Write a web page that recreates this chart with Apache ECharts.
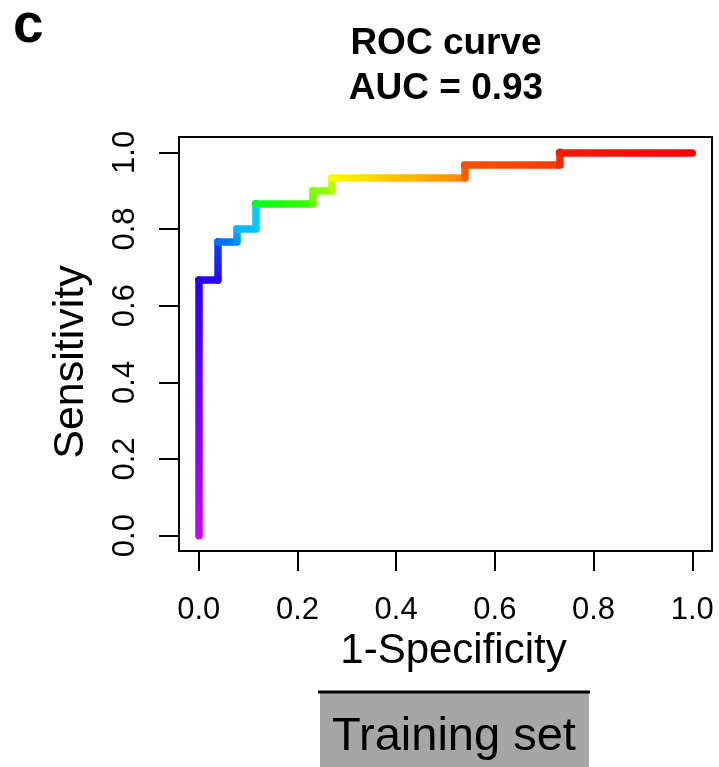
<!DOCTYPE html>
<html>
<head>
<meta charset="utf-8">
<script src="https://cdn.jsdelivr.net/npm/echarts@6/dist/echarts.min.js"></script>
<style>
  html, body { margin: 0; padding: 0; background: #fff; }
  #main { width: 719px; height: 767px; }
</style>
</head>
<body>
<div id="main"></div>
<script>
// ROC curve corner points (1-specificity, sensitivity)
var fpr = [0, 0, 0.0385, 0.0385, 0.0769, 0.0769, 0.1154, 0.1154, 0.2308, 0.2308, 0.2692, 0.2692, 0.5385, 0.5385, 0.7308, 0.7308, 1];
var tpr = [0, 0.6667, 0.6667, 0.7667, 0.7667, 0.8, 0.8, 0.8667, 0.8667, 0.9, 0.9, 0.9333, 0.9333, 0.9667, 0.9667, 1, 1];

// colour at the start / end of each step (cutoff colouring)
var edgeFrom = ['#cc00ff', '#2a00ff', '#2a00ff', '#0070ff', '#0090ff', '#00b8ff', '#00c8ff', '#00ff20',
                '#60ff00', '#80ff00', '#b0ff00', '#ffff00', '#ff6000', '#ff5000', '#ff2800', '#ff1800'];
var edgeTo   = ['#2200ff', '#2a00ff', '#0050ff', '#0080ff', '#00b0ff', '#00c0ff', '#00d0ff', '#40ff00',
                '#80ff00', '#90ff00', '#c8ff00', '#ff8000', '#ff5000', '#ff3a00', '#ff2000', '#ff0000'];

var tickValues = [0, 0.2, 0.4, 0.6, 0.8, 1.0];

var FONT = "'Liberation Sans', Arial, Helvetica, sans-serif";

var edges = [];
for (var i = 0; i < fpr.length - 1; i++) {
  var vertical = fpr[i] === fpr[i + 1];
  var grad = vertical
    ? new echarts.graphic.LinearGradient(0, 1, 0, 0, [{offset: 0, color: edgeFrom[i]}, {offset: 1, color: edgeTo[i]}])
    : new echarts.graphic.LinearGradient(0, 0, 1, 0, [{offset: 0, color: edgeFrom[i]}, {offset: 1, color: edgeTo[i]}]);
  edges.push({
    coords: [[fpr[i], tpr[i]], [fpr[i + 1], tpr[i + 1]]],
    lineStyle: {color: grad}
  });
}

var chart = echarts.init(document.getElementById('main'));

var axisCommon = {
  type: 'value',
  min: -0.04,
  max: 1.04,
  splitLine: {show: false},
  axisLine: {show: true, onZero: false, lineStyle: {color: '#000', width: 2}},
  axisTick: {show: true, inside: false, customValues: tickValues, length: 20, lineStyle: {color: '#000', width: 2}},
  nameLocation: 'middle'
};

var option = {
  animation: false,
  title: [{
    text: 'c',
    left: 8,
    top: -6,
    textStyle: {fontFamily: FONT, fontSize: 55, fontWeight: 'bold', color: '#000'}
  }, {
    text: 'ROC curve\nAUC = 0.93',
    left: 441,
    top: 16,
    textAlign: 'center',
    textStyle: {fontFamily: FONT, fontSize: 37, fontWeight: 'bold', color: '#000', lineHeight: 45}
  }],
  grid: {
    left: 179,
    top: 137,
    width: 533,
    height: 414,
    show: true,
    borderColor: '#000',
    borderWidth: 2,
    containLabel: false,
    outerBoundsMode: 'none'
  },
  xAxis: Object.assign({}, axisCommon, {
    name: '1-Specificity',
    nameGap: 78,
    nameTextStyle: {fontFamily: FONT, fontSize: 42, color: '#000', padding: [0, 0, 0, 16]},
    axisLabel: {
      customValues: tickValues,
      formatter: function (v) { return v.toFixed(1); },
      fontFamily: FONT, fontSize: 31, color: '#000', margin: 44
    }
  }),
  yAxis: Object.assign({}, axisCommon, {
    name: 'Sensitivity',
    nameGap: 86,
    nameTextStyle: {fontFamily: FONT, fontSize: 43, color: '#000', padding: [0, 36, 0, 0]},
    axisLabel: {
      customValues: tickValues,
      rotate: 90,
      formatter: function (v) { return v.toFixed(1); },
      fontFamily: FONT, fontSize: 31, color: '#000', margin: 38
    }
  }),
  series: [{
    type: 'lines',
    coordinateSystem: 'cartesian2d',
    silent: true,
    lineStyle: {width: 7.5, opacity: 1, cap: 'round'},
    data: edges
  }],
  graphic: [{
    type: 'rect',
    shape: {x: 320, y: 693, width: 269, height: 80},
    style: {fill: '#a6a6a6'}
  }, {
    type: 'line',
    shape: {x1: 318, y1: 692, x2: 590, y2: 692},
    style: {stroke: '#000', lineWidth: 3}
  }, {
    type: 'text',
    x: 454,
    y: 737,
    style: {
      text: 'Training set',
      fontFamily: FONT, fontSize: 47, fill: '#000',
      align: 'center', verticalAlign: 'middle'
    }
  }]
};

chart.setOption(option);
</script>
</body>
</html>
